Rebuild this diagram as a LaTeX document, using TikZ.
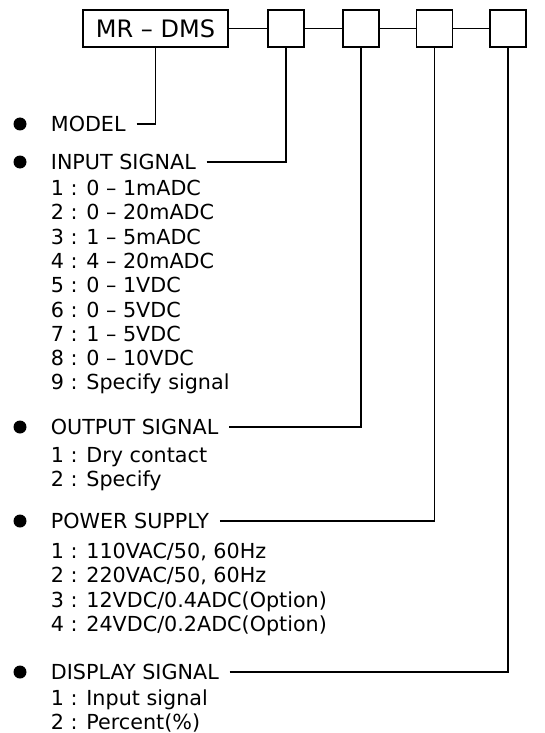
\documentclass[tikz,border=0pt]{standalone}
\usepackage{fontspec}
\setmainfont{DejaVu Sans}
\usetikzlibrary{positioning}

\begin{document}
\begin{tikzpicture}[x=1pt,y=-1pt,line width=1.8pt,
    box/.style={draw,minimum width=36pt,minimum height=37pt,inner sep=0pt},
    head/.style={anchor=west,inner xsep=10pt,inner ysep=0pt,font=\fontsize{20.7}{24}\selectfont},
    item/.style={anchor=base west,inner sep=0pt,font=\fontsize{20.7}{24}\selectfont}]
    \useasboundingbox (0,0) rectangle (544,733);

    % code boxes
    \node[box,minimum width=145pt,font=\fontsize{24}{28}\selectfont] (mr) at (155.5,28.5) {MR -- DMS};
    \node[box,right=38pt of mr] (sig) {};
    \node[box,right=37pt of sig] (out) {};
    \node[box,right=36pt of out] (pwr) {};
    \node[box,right=36pt of pwr] (disp) {};
    \draw (mr) -- (sig) -- (out) -- (pwr) -- (disp);

    % headings
    \node[head] (model) at (40,124) {MODEL};
    \node[head] (input) at (40,162) {INPUT SIGNAL};
    \node[head] (output) at (40,427) {OUTPUT SIGNAL};
    \node[head] (power) at (40,521) {POWER SUPPLY};
    \node[head] (display) at (40,672) {DISPLAY SIGNAL};
    \foreach \n in {model,input,output,power,display}
        \fill ([xshift=-20pt]\n.west) circle (6.5pt);

    \draw (model) -| (mr);
    \draw (input) -| (sig);
    \draw (output) -| (out);
    \draw (power) -| (pwr);
    \draw (display) -| (disp);

    % options
    \foreach \t [count=\i] in {0 -- 1mADC,0 -- 20mADC,1 -- 5mADC,4 -- 20mADC,0 -- 1VDC,0 -- 5VDC,1 -- 5VDC,0 -- 10VDC,Specify signal}
        \node[item] (in\i) at (50,{195.5+24.3*(\i-1)}) {\i{} : \t};
    \foreach \t [count=\i] in {Dry contact,Specify}
        \node[item] (ou\i) at (50,{462+24.5*(\i-1)}) {\i{} : \t};
    \foreach \t [count=\i] in {{110VAC/50, 60Hz},{220VAC/50, 60Hz},12VDC/0.4ADC(Option),24VDC/0.2ADC(Option)}
        \node[item] (pw\i) at (50,{558+24.6*(\i-1)}) {\i{} : \t};
    \foreach \t [count=\i] in {Input signal,Percent(\%)}
        \node[item] (di\i) at (50,{705+24*(\i-1)}) {\i{} : \t};
\end{tikzpicture}
\end{document}
